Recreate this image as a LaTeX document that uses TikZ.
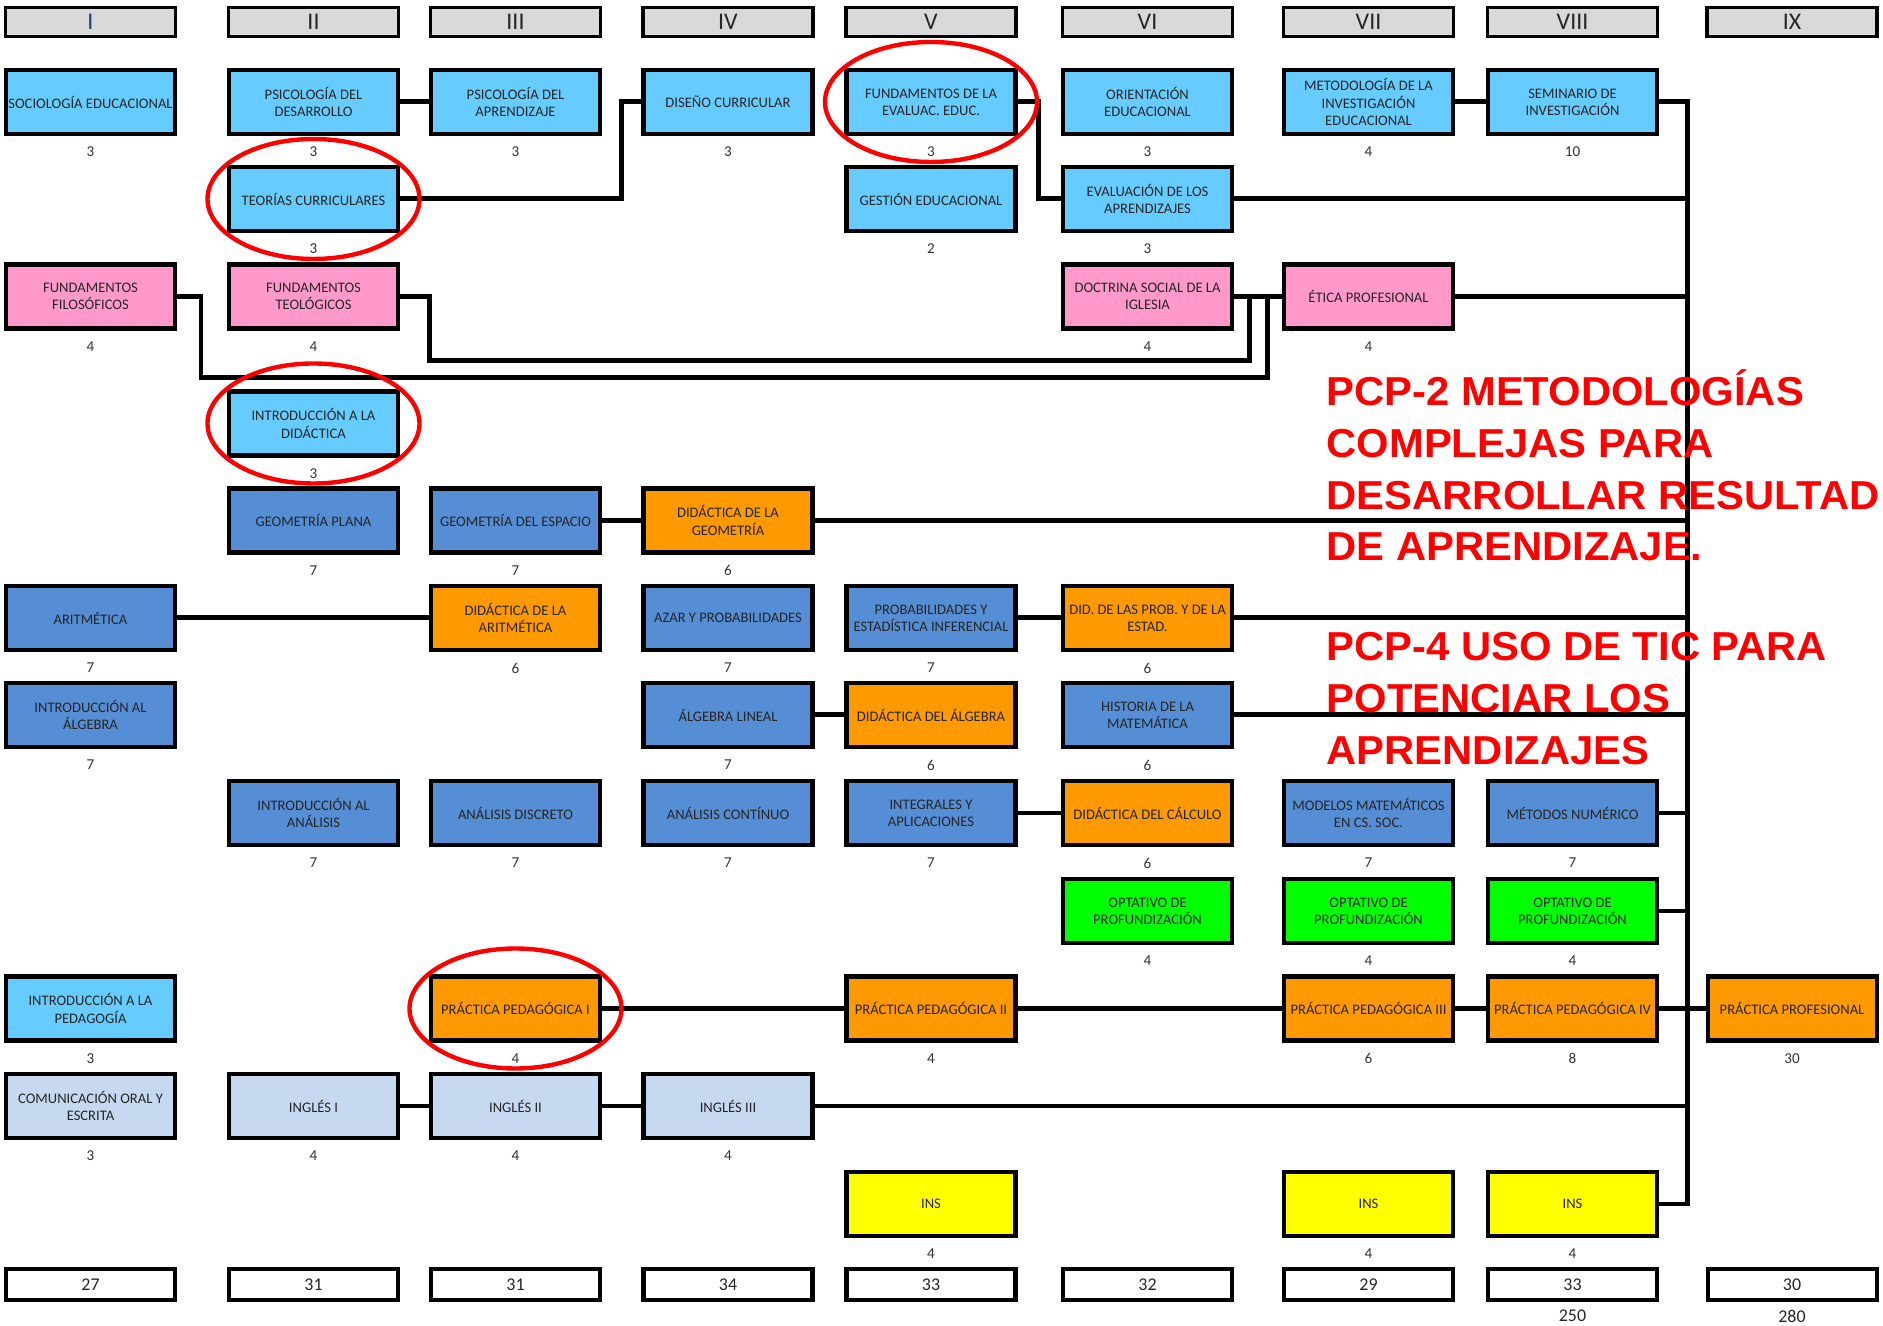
\documentclass[tikz,border=0pt]{standalone}
\usepackage{fontspec}
\setmainfont{Carlito}
\newfontfamily\rojofont[FakeStretch=1.033]{Liberation Sans}
\definecolor{cCian}{HTML}{66CCFF}
\definecolor{cRosa}{HTML}{FF99CC}
\definecolor{cAzul}{HTML}{558ED5}
\definecolor{cNaranja}{HTML}{FF9900}
\definecolor{cCeleste}{HTML}{C6D9F1}
\definecolor{cVerde}{HTML}{00FF00}
\definecolor{cAmarillo}{HTML}{FFFF00}
\definecolor{cGris}{HTML}{D9D9D9}
\definecolor{cMarino}{HTML}{1F3F73}
\definecolor{cRojo}{HTML}{FF0000}

\begin{document}
\begin{tikzpicture}[
    x=1cm, y=1cm,
    asig/.style={draw=black, line width=1.15pt, minimum width=1.69cm,
                 minimum height=0.64cm, inner sep=0.5pt, align=center,
                 text=black!85, font=\fontsize{4.15}{4.9}\selectfont},
    cian/.style={asig, fill=cCian},
    rosa/.style={asig, fill=cRosa},
    azul/.style={asig, fill=cAzul},
    nar/.style={asig, fill=cNaranja},
    cel/.style={asig, fill=cCeleste},
    verde/.style={asig, fill=cVerde},
    amar/.style={asig, fill=cAmarillo},
    sem/.style={draw=black, line width=0.9pt, fill=cGris, minimum width=1.70cm,
                minimum height=0.29cm, inner sep=0pt, text=black!85,
                font=\fontsize{6.8}{7}\selectfont},
    tot/.style={draw=black, line width=1.15pt, fill=white, minimum width=1.69cm,
                minimum height=0.31cm, inner sep=0pt, text=black!85,
                font=\fontsize{5.1}{6}\selectfont},
    cr/.style={font=\fontsize{4.3}{5}\selectfont, text=black!80, inner sep=0pt,
               outer sep=0pt},
    label distance=0.11cm,
    link/.style={line width=1.42pt, black},
    marca/.style={draw=cRojo, line width=1.25pt},
    aviso/.style={font=\rojofont\bfseries\fontsize{11.5}{14.7}\selectfont,
                  text=cRojo, anchor=base west, inner sep=0pt},
]
\useasboundingbox (0,0) rectangle (18.83,13.25);

% ===================== Semestres =====================
\node[sem, text=cMarino] (sI) at (0.905,13.03) {I};
\node[sem] (sII) at (3.135,13.03) {II};
\node[sem] (sIII) at (5.155,13.03) {III};
\node[sem] (sIV) at (7.28,13.03) {IV};
\node[sem] (sV) at (9.31,13.03) {V};
\node[sem] (sVI) at (11.475,13.03) {VI};
\node[sem] (sVII) at (13.685,13.03) {VII};
\node[sem] (sVIII) at (15.725,13.03) {VIII};
\node[sem] (sIX) at (17.92,13.03) {IX};

% ===================== Formacion pedagogica =====================
\node[cian, label={[cr]below:3}] (soc) at (0.905,12.23) {SOCIOLOGÍA EDUCACIONAL};
\node[cian, label={[cr]below:3}] (psdes) at (3.135,12.23) {PSICOLOGÍA DEL\\DESARROLLO};
\node[cian, label={[cr]below:3}] (psapr) at (5.155,12.23) {PSICOLOGÍA DEL\\APRENDIZAJE};
\node[cian, label={[cr]below:3}] (disc) at (7.28,12.23) {DISEÑO CURRICULAR};
\node[cian, label={[cr]below:3}] (feval) at (9.31,12.23) {FUNDAMENTOS DE LA\\EVALUAC. EDUC.};
\node[cian, label={[cr]below:3}] (orie) at (11.475,12.23) {ORIENTACIÓN\\EDUCACIONAL};
\node[cian, label={[cr]below:4}] (metod) at (13.685,12.23) {METODOLOGÍA DE LA\\INVESTIGACIÓN\\EDUCACIONAL};
\node[cian, label={[cr]below:10}] (semi) at (15.725,12.23) {SEMINARIO DE\\INVESTIGACIÓN};

\node[cian, label={[cr]below:3}] (teor) at (3.135,11.26) {TEORÍAS CURRICULARES};
\node[cian, label={[cr]below:2}] (gest) at (9.31,11.26) {GESTIÓN EDUCACIONAL};
\node[cian, label={[cr]below:3}] (evap) at (11.475,11.26) {EVALUACIÓN DE LOS\\APRENDIZAJES};

% ===================== Formacion general =====================
\node[rosa, label={[cr]below:4}] (ffil) at (0.905,10.285) {FUNDAMENTOS\\FILOSÓFICOS};
\node[rosa, label={[cr]below:4}] (fteo) at (3.135,10.285) {FUNDAMENTOS\\TEOLÓGICOS};
\node[rosa, label={[cr]below:4}] (doct) at (11.475,10.285) {DOCTRINA SOCIAL DE LA\\IGLESIA};
\node[rosa, label={[cr]below:4}] (etica) at (13.685,10.285) {ÉTICA PROFESIONAL};

\node[cian, label={[cr]below:3}] (indid) at (3.135,9.015) {INTRODUCCIÓN A LA\\DIDÁCTICA};

% ===================== Formacion disciplinar =====================
\node[azul, label={[cr]below:7}] (geopl) at (3.135,8.045) {GEOMETRÍA PLANA};
\node[azul, label={[cr]below:7}] (geoesp) at (5.155,8.045) {GEOMETRÍA DEL ESPACIO};
\node[nar, label={[cr]below:6}] (didgeo) at (7.28,8.045) {DIDÁCTICA DE LA\\GEOMETRÍA};

\node[azul, label={[cr]below:7}] (arit) at (0.905,7.07) {ARITMÉTICA};
\node[nar, label={[cr]below:6}] (didarit) at (5.155,7.07) {DIDÁCTICA DE LA\\ARITMÉTICA};
\node[azul, label={[cr]below:7}] (azar) at (7.28,7.07) {AZAR Y PROBABILIDADES};
\node[azul, label={[cr]below:7}] (probest) at (9.31,7.07) {PROBABILIDADES Y\\ESTADÍSTICA INFERENCIAL};
\node[nar, label={[cr]below:6}] (didprob) at (11.475,7.07) {DID. DE LAS PROB. Y DE LA\\ESTAD.};

\node[azul, label={[cr]below:7}] (inalg) at (0.905,6.10) {INTRODUCCIÓN AL\\ÁLGEBRA};
\node[azul, label={[cr]below:7}] (alglin) at (7.28,6.10) {ÁLGEBRA LINEAL};
\node[nar, label={[cr]below:6}] (didalg) at (9.31,6.10) {DIDÁCTICA DEL ÁLGEBRA};
\node[azul, label={[cr]below:6}] (hist) at (11.475,6.10) {HISTORIA DE LA\\MATEMÁTICA};

\node[azul, label={[cr]below:7}] (inan) at (3.135,5.12) {INTRODUCCIÓN AL\\ANÁLISIS};
\node[azul, label={[cr]below:7}] (andis) at (5.155,5.12) {ANÁLISIS DISCRETO};
\node[azul, label={[cr]below:7}] (ancon) at (7.28,5.12) {ANÁLISIS CONTÍNUO};
\node[azul, label={[cr]below:7}] (integ) at (9.31,5.12) {INTEGRALES Y\\APLICACIONES};
\node[nar, label={[cr]below:6}] (didcal) at (11.475,5.12) {DIDÁCTICA DEL CÁLCULO};
\node[azul, label={[cr]below:7}] (model) at (13.685,5.12) {MODELOS MATEMÁTICOS\\EN CS. SOC.};
\node[azul, label={[cr]below:7}] (metnum) at (15.725,5.12) {MÉTODOS NUMÉRICO};

\node[verde, label={[cr]below:4}] (opt6) at (11.475,4.14) {OPTATIVO DE\\PROFUNDIZACIÓN};
\node[verde, label={[cr]below:4}] (opt7) at (13.685,4.14) {OPTATIVO DE\\PROFUNDIZACIÓN};
\node[verde, label={[cr]below:4}] (opt8) at (15.725,4.14) {OPTATIVO DE\\PROFUNDIZACIÓN};

% ===================== Practicas =====================
\node[cian, label={[cr]below:3}] (inped) at (0.905,3.165) {INTRODUCCIÓN A LA\\PEDAGOGÍA};
\node[nar, label={[cr]below:4}] (prac1) at (5.155,3.165) {PRÁCTICA PEDAGÓGICA I};
\node[nar, label={[cr]below:4}] (prac2) at (9.31,3.165) {PRÁCTICA PEDAGÓGICA II};
\node[nar, label={[cr]below:6}] (prac3) at (13.685,3.165) {PRÁCTICA PEDAGÓGICA III};
\node[nar, label={[cr]below:8}] (prac4) at (15.725,3.165) {PRÁCTICA PEDAGÓGICA IV};
\node[nar, label={[cr]below:30}] (pracprof) at (17.92,3.165) {PRÁCTICA PROFESIONAL};

% ===================== Comunicacion e ingles =====================
\node[cel, label={[cr]below:3}] (comu) at (0.905,2.19) {COMUNICACIÓN ORAL Y\\ESCRITA};
\node[cel, label={[cr]below:4}] (ing1) at (3.135,2.19) {INGLÉS I};
\node[cel, label={[cr]below:4}] (ing2) at (5.155,2.19) {INGLÉS II};
\node[cel, label={[cr]below:4}] (ing3) at (7.28,2.19) {INGLÉS III};

\node[amar, label={[cr]below:4}] (ins5) at (9.31,1.21) {INS};
\node[amar, label={[cr]below:4}] (ins7) at (13.685,1.21) {INS};
\node[amar, label={[cr]below:4}] (ins8) at (15.725,1.21) {INS};

% ===================== Totales =====================
\node[tot] (tI) at (0.905,0.405) {27};
\node[tot] (tII) at (3.135,0.405) {31};
\node[tot] (tIII) at (5.155,0.405) {31};
\node[tot] (tIV) at (7.28,0.405) {34};
\node[tot] (tV) at (9.31,0.405) {33};
\node[tot] (tVI) at (11.475,0.405) {32};
\node[tot] (tVII) at (13.685,0.405) {29};
\node[tot] (tVIII) at (15.725,0.405) {33};
\node[tot] (tIX) at (17.92,0.405) {30};
\node[tot, draw=none, fill=none] (suma8) at (15.725,0.09) {250};
\node[tot, draw=none, fill=none] (suma9) at (17.92,0.09) {280};

% ===================== Conexiones =====================
\coordinate (kTD) at (6.21,0);
\coordinate (kFE) at (10.38,0);
\coordinate (bus) at (16.87,0);
\coordinate (kFa) at (2.01,9.47);
\coordinate (kFb) at (12.67,9.47);
\coordinate (kTa) at (4.29,9.64);
\coordinate (kTb) at (12.49,9.64);

\draw[link] (psdes.east) -- (psapr.west);
\draw[link] (teor.east) -- (teor.east -| kTD) |- (disc.west);
\draw[link] (feval.east) -- (feval.east -| kFE) |- (evap.west);
\draw[link] (evap.east) -- (evap.east -| bus);
\draw[link] (metod.east) -- (semi.west);
\draw[link] (semi.east) -- (semi.east -| bus) -- (ins8.east -| bus) -- (ins8.east);

\draw[link] (ffil.east) -| (kFa) -- (kFb) |- (etica.west);
\draw[link] (fteo.east) -| (kTa) -- (kTb) |- (etica.west);
\draw[link] (doct.east) -- (etica.west);
\draw[link] (etica.east) -- (etica.east -| bus);

\draw[link] (geoesp.east) -- (didgeo.west);
\draw[link] (didgeo.east) -- (didgeo.east -| bus);
\draw[link] (arit.east) -- (didarit.west);
\draw[link] (probest.east) -- (didprob.west);
\draw[link] (didprob.east) -- (didprob.east -| bus);
\draw[link] (alglin.east) -- (didalg.west);
\draw[link] (hist.east) -- (hist.east -| bus);
\draw[link] (integ.east) -- (didcal.west);
\draw[link] (metnum.east) -- (metnum.east -| bus);
\draw[link] (opt8.east) -- (opt8.east -| bus);

\draw[link] (prac1.east) -- (prac2.west);
\draw[link] (prac2.east) -- (prac3.west);
\draw[link] (prac3.east) -- (prac4.west);
\draw[link] (prac4.east) -- (pracprof.west);

\draw[link] (ing1.east) -- (ing2.west);
\draw[link] (ing2.east) -- (ing3.west);
\draw[link] (ing3.east) -- (ing3.east -| bus);

% ===================== Marcas =====================
\draw[marca] (teor.center) ellipse [x radius=1.06cm, y radius=0.60cm];
\draw[marca] (feval.center) ellipse [x radius=1.06cm, y radius=0.60cm];
\draw[marca] (indid.center) ellipse [x radius=1.06cm, y radius=0.60cm];
\draw[marca] (prac1.center) ellipse [x radius=1.06cm, y radius=0.60cm];

% ===================== Competencias =====================
\node[aviso] (pcp2a) at (13.26,9.19) {PCP-2 METODOLOGÍAS};
\node[aviso] (pcp2b) at (13.26,8.67) {COMPLEJAS PARA};
\node[aviso] (pcp2c) at (13.26,8.15) {DESARROLLAR RESULTAD};
\node[aviso] (pcp2d) at (13.26,7.64) {DE APRENDIZAJE.};
\node[aviso] (pcp4a) at (13.26,6.64) {PCP-4 USO DE TIC PARA};
\node[aviso] (pcp4b) at (13.26,6.12) {POTENCIAR LOS};
\node[aviso] (pcp4c) at (13.26,5.60) {APRENDIZAJES};

\end{tikzpicture}
\end{document}
